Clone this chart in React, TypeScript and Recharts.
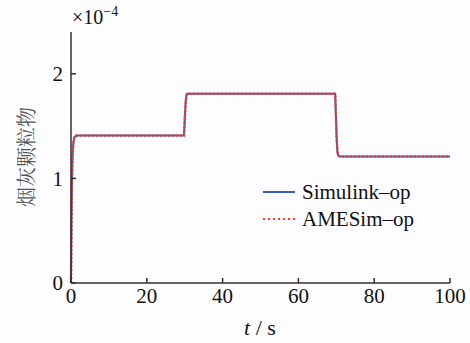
import { LineChart, Line, XAxis, YAxis } from 'recharts';

const times = [0, 0.1, 0.2, 0.3, 0.4, 0.6, 0.8, 1.0, 1.5, 2, 29.8, 30.0, 30.2, 30.4, 30.6, 31, 69.7, 69.9, 70.1, 70.3, 70.5, 71, 100];
const simulinkValues = [0, 0.45, 0.8, 1.05, 1.2, 1.33, 1.38, 1.4, 1.41, 1.41, 1.41, 1.55, 1.7, 1.78, 1.81, 1.81, 1.81, 1.6, 1.38, 1.25, 1.22, 1.21, 1.21];
const amesimValues = [0, 0.44, 0.79, 1.04, 1.2, 1.33, 1.38, 1.4, 1.41, 1.41, 1.41, 1.54, 1.69, 1.78, 1.81, 1.81, 1.81, 1.61, 1.39, 1.26, 1.22, 1.21, 1.21];
const xTicks = [0, 20, 40, 60, 80, 100];
const yTicks = [0, 1, 2];
const seriesNames = ['Simulink–op', 'AMESim–op'];

const data = times.map((t, i) => ({ t, sim: simulinkValues[i], ames: amesimValues[i] }));

const AXIS = '#3b2c25';
const SERIF = '"Liberation Serif", serif';
const BLUE = '#2f5fc4';
const RED = '#ff3b24';

export default function App() {
  const tickStyle = { fontFamily: SERIF, fontSize: 21, fill: '#111' };
  return (
    <div style={{ position: 'absolute', left: 0, top: 0, width: 470, height: 343, background: '#fdfdff' }}>
      <LineChart width={470} height={343} data={data} margin={{ top: 32, right: 20, bottom: 30, left: 31 }}>
        <XAxis
          dataKey="t"
          type="number"
          domain={[0, 100]}
          ticks={xTicks}
          stroke={AXIS}
          strokeWidth={1.5}
          tickSize={-5}
          tickMargin={10}
          height={30}
          tick={tickStyle}
          interval={0}
        />
        <XAxis
          xAxisId="top"
          orientation="top"
          dataKey="t"
          type="number"
          domain={[0, 100]}
          ticks={xTicks}
          stroke={AXIS}
          strokeWidth={1.5}
          tickSize={-5}
          height={0}
          tick={false}
        />
        <YAxis
          type="number"
          domain={[0, 2.4]}
          ticks={yTicks}
          stroke={AXIS}
          strokeWidth={1.5}
          tickSize={-5}
          tickMargin={13}
          width={40}
          tick={tickStyle}
          interval={0}
        />
        <YAxis
          yAxisId="right"
          orientation="right"
          type="number"
          domain={[0, 2.4]}
          ticks={yTicks}
          stroke={AXIS}
          strokeWidth={1.5}
          tickSize={-5}
          width={0}
          tick={false}
        />
        <Line dataKey="sim" name={seriesNames[0]} stroke={BLUE} strokeWidth={2} dot={false} isAnimationActive={false} />
        <Line dataKey="ames" name={seriesNames[1]} stroke={RED} strokeWidth={2.5} strokeDasharray="2 2" dot={false} isAnimationActive={false} />
      </LineChart>
      {/* legend drawn by hand so it doesn't eat into the plot area */}
      <svg style={{ position: 'absolute', left: 258, top: 178 }} width={200} height={60}>
        <line x1={5} y1={14} x2={37} y2={14} stroke={BLUE} strokeWidth={2} />
        <text x={44} y={21} fontFamily={SERIF} fontSize={21} fill="#111">{seriesNames[0]}</text>
        <line x1={5} y1={41} x2={37} y2={41} stroke={RED} strokeWidth={2} strokeDasharray="2 3" />
        <text x={44} y={48} fontFamily={SERIF} fontSize={21} fill="#111">{seriesNames[1]}</text>
      </svg>
      <div style={{ position: 'absolute', left: 72, top: 4, fontFamily: SERIF, fontSize: 20, color: '#111', whiteSpace: 'nowrap' }}>
        ×10<sup style={{ fontSize: 14 }}>−4</sup>
      </div>
      <div
        style={{
          position: 'absolute',
          left: 25,
          top: 157,
          transform: 'translate(-50%, -50%) rotate(-90deg)',
          fontFamily: '"Noto Serif CJK SC", "Noto Sans CJK SC", serif',
          fontSize: 20,
          color: '#555',
          whiteSpace: 'nowrap',
        }}
      >
        烟灰颗粒物
      </div>
      <div style={{ position: 'absolute', left: 260, top: 328, transform: 'translate(-50%, -50%)', fontFamily: SERIF, fontSize: 22, color: '#111', whiteSpace: 'nowrap' }}>
        <i>t</i> / s
      </div>
    </div>
  );
}
